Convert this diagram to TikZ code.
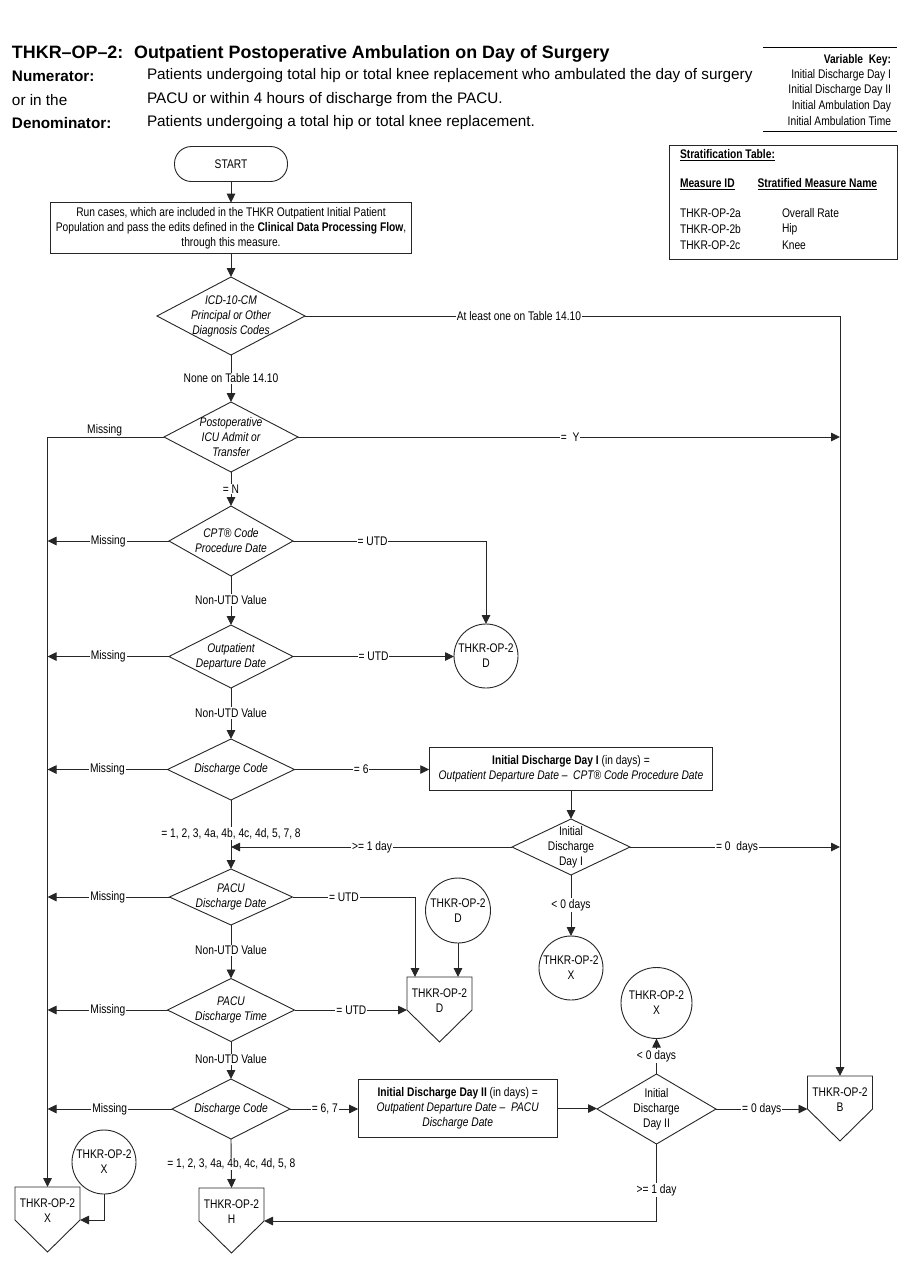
\documentclass[tikz,border=0pt]{standalone}
\usepackage{fontspec}
\setmainfont{Liberation Sans}
\newfontfamily\nar[FakeStretch=0.82]{Liberation Sans}
\usetikzlibrary{shapes.geometric,calc,arrows.meta}
\newcommand\nfs{\nar\fontsize{12.5}{15}\selectfont}
\newcommand\mydec[7]{%
  \node[dia, minimum width=#4pt, minimum height=#5pt] (#1) at (#2,#3) {};
  \node[#6] (#1t) at (#1.center) {#7};}
\newcommand\mypent[4]{%
  \node[pbox, anchor=north] (#1) at (#2,#3) {};
  \draw[ln] (#1.north west) -- (#1.north east) -- (#1.south east) -- ($(#1.south)+(0,32)$) -- (#1.south west) -- cycle;
  \node[ptx] (#1t) at ($(#1.north)+(0,24)$) {THKR-OP-2\\#4};}
\begin{document}
\begin{tikzpicture}[x=1pt,y=-1pt,
  every node/.style={inner sep=0pt, outer sep=0pt},
  ln/.style={line width=0.9pt, draw=black!85},
  ar/.style={ln, -{Triangle[length=9pt,width=8.5pt]}},
  dia/.style={diamond, draw=black!85, line width=0.9pt, inner sep=0pt},
  dti/.style={font=\nfs\itshape, align=center},
  dtu/.style={font=\nfs, align=center},
  lbl/.style={font=\nfs, fill=white, inner sep=1pt},
  circ/.style={circle, draw=black!85, line width=0.9pt, inner sep=0pt, align=center, font=\nfs},
  bx/.style={rectangle, draw=black!85, line width=0.9pt, align=center, font=\nfs},
  pbox/.style={rectangle, minimum width=65pt, minimum height=33pt},
  ptx/.style={font=\nfs, align=center},
  hd/.style={font=\fontsize{15.3}{18}\selectfont, anchor=west},
  vk/.style={font=\nar\fontsize{12.5}{15}\selectfont, anchor=east},
  st/.style={font=\nar\fontsize{12.5}{15}\selectfont, anchor=west}
]
\fill[white] (0,0) rectangle (900,1286);
\useasboundingbox (0,0) rectangle (900,1286);

% ---------- header ----------
\node[anchor=west, font=\bfseries\fontsize{17.9}{22}\selectfont] (title) at (12,53.5) {THKR–OP–2:\hspace{0.6em}Outpatient Postoperative Ambulation on Day of Surgery};
\node[hd, font=\bfseries\fontsize{15.3}{18}\selectfont] (numl) at (12,76) {Numerator:};
\node[hd] (numt) at (147,76) {Patients undergoing total hip or total knee replacement who ambulated the day of surgery};
\node[hd] (numl2) at (12,100) {or in the};
\node[hd] (numt2) at (147,100) {PACU or within 4 hours of discharge from the PACU.};
\node[hd, font=\bfseries\fontsize{15.3}{18}\selectfont] (denl) at (12,123) {Denominator:};
\node[hd] (dent) at (147,123) {Patients undergoing a total hip or total knee replacement.};

% variable key
\coordinate (vk1) at (763,47.7);
\coordinate (vk2) at (897,47.7);
\coordinate (vk3) at (763,131.5);
\coordinate (vk4) at (897,131.5);
\draw[line width=1pt] (vk1) -- (vk2);
\draw[line width=1pt] (vk3) -- (vk4);
\node[vk] (vka) at (891,60.5) {\textbf{Variable\ \ Key:}};
\node[vk] (vkb) at (891,75.5) {Initial Discharge Day I};
\node[vk] (vkc) at (891,90.5) {Initial Discharge Day II};
\node[vk] (vkd) at (891,106) {Initial Ambulation Day};
\node[vk] (vke) at (891,121) {Initial Ambulation Time};

% stratification table
\node[draw=black!85, line width=0.9pt, minimum width=228pt, minimum height=114pt, anchor=north west] (strat) at (669.5,145) {};
\node[st] (s1) at (680,155) {\textbf{\underline{Stratification Table:}}};
\node[st] (s2) at (680,184) {\textbf{\underline{Measure ID}}};
\node[st] (s3) at (757.5,184) {\textbf{\underline{Stratified Measure Name}}};
\node[st] (s4) at (680,213.3) {THKR-OP-2a};
\node[st] (s5) at (782,213.3) {Overall Rate};
\node[st] (s6) at (680,229.3) {THKR-OP-2b};
\node[st] (s7) at (782,229.3) {Hip};
\node[st] (s8) at (680,245) {THKR-OP-2c};
\node[st] (s9) at (782,245) {Knee};

% ---------- flow nodes ----------
\node[bx, rounded corners=17pt, minimum width=113pt, minimum height=35pt] (start) at (231,164) {START};
\node[bx, minimum width=361pt, minimum height=50.6pt] (run) at (231,228) {Run cases, which are included in the THKR Outpatient Initial Patient\\Population and pass the edits defined in the \textbf{Clinical Data Processing Flow},\\through this measure.};

\mydec{d1}{231}{316}{148}{78}{dti}{ICD-10-CM\\Principal or Other\\Diagnosis Codes}
\mydec{d2}{231}{437}{134}{70}{dti}{Postoperative\\ICU Admit or\\Transfer}
\mydec{d3}{231}{541}{124}{70}{dti}{CPT® Code\\Procedure Date}
\mydec{d4}{231}{656.5}{124}{63}{dti}{Outpatient\\Departure Date}
\mydec{d5}{231}{769.5}{127}{61}{dti}{Discharge Code}
\mydec{d6}{571}{847}{118}{56}{dtu}{Initial\\Discharge\\Day I}
\mydec{d7}{231}{897}{123}{56}{dti}{PACU\\Discharge Date}
\mydec{d8}{231}{1010}{127}{63}{dti}{PACU\\Discharge Time}
\mydec{d9}{231}{1109}{118}{60}{dti}{Discharge Code}
\mydec{d10}{656.5}{1109}{119}{70}{dtu}{Initial\\Discharge\\Day II}

\node[bx, minimum width=283.5pt, minimum height=43.7pt] (boxI) at (571,769) {\textbf{Initial Discharge Day I} (in days) =\\\textit{Outpatient Departure Date –\ \ CPT® Code Procedure Date}};
\node[bx, minimum width=199pt, minimum height=58pt] (boxII) at (457.7,1108.5) {\textbf{Initial Discharge Day II} (in days) =\\\textit{Outpatient Departure Date –\ \ PACU}\\\textit{Discharge Date}};

\node[circ, minimum size=64pt] (cD1) at (486,656) {THKR-OP-2\\D};
\node[circ, minimum size=65pt] (cD2) at (458,910.5) {THKR-OP-2\\D};
\node[circ, minimum size=64pt] (cX1) at (571,968) {THKR-OP-2\\X};
\node[circ, minimum size=71pt] (cX2) at (656.5,1003) {THKR-OP-2\\X};
\node[circ, minimum size=64pt] (cX3) at (104,1162) {THKR-OP-2\\X};

\mypent{pD}{439.5}{977}{D}
\mypent{pB}{840}{1076}{B}
\mypent{pH}{231.5}{1188}{H}
\mypent{pX}{47.5}{1187}{X}

% ---------- connectors ----------
\draw[ar] (start.south) -- (run.north);
\draw[ar] (run.south) -- (d1.north);
\draw[ar] (d1.east) -| node[lbl, pos=0.2] {At least one on Table 14.10} (pB.north);
\draw[ar] (d1.south) -- node[lbl, pos=0.5] {None on Table 14.10} (d2.north);
\draw[ar] (d2.west) -| node[lbl, pos=0.255, anchor=south, inner sep=0.5pt] {Missing} (pX.north);
\draw[ar] (d2.east) -- node[lbl, pos=0.502] {=\ \ Y} (d2.east -| pB.north);
\draw[ar] (d2.south) -- node[lbl, pos=0.5] {= N} (d3.north);

\draw[ar] (d3.west) -- node[lbl, pos=0.5] {Missing} (d3.west -| pX.north);
\draw[ar] (d3.east) -| node[lbl, pos=0.206] {= UTD} (cD1.north);
\draw[ar] (d3.south) -- node[lbl, pos=0.49] {Non-UTD Value} (d4.north);

\draw[ar] (d4.west) -- node[lbl, pos=0.5] {Missing} (d4.west -| pX.north);
\draw[ar] (d4.east) -- node[lbl, pos=0.5] {= UTD} (d4.east -| cD1.west);
\draw[ar] (d4.south) -- node[lbl, pos=0.49] {Non-UTD Value} (d5.north);

\draw[ar] (d5.west) -- node[lbl, pos=0.5] {Missing} (d5.west -| pX.north);
\draw[ar] (d5.east) -- node[lbl, pos=0.495] {= 6} (d5.east -| boxI.west);
\draw[ar] (boxI.south) -- (d6.north);
\draw[ar] (d6.west) -- node[lbl, pos=0.498] {>= 1 day} (d6.west -| d5.south);
\draw[ar] (d6.east) -- node[lbl, pos=0.51] {= 0\ \ days} (d6.east -| pB.north);
\draw[ar] (d6.south) -- node[lbl, pos=0.49] {< 0 days} (cX1.north);
\draw[ar] (d5.south) -- node[lbl, pos=0.49] {= 1, 2, 3, 4a, 4b, 4c, 4d, 5, 7, 8} (d7.north);

\draw[ar] (d7.west) -- node[lbl, pos=0.507] {Missing} (d7.west -| pX.north);
\draw[ar] (d7.east) -| node[lbl, pos=0.21] {= UTD} ([xshift=8pt]pD.north west);
\draw[ar] (cD2.south) -- (cD2.south |- pD.north);
\draw[ar] (d7.south) -- node[lbl, pos=0.47] {Non-UTD Value} (d8.north);

\draw[ar] (d8.west) -- node[lbl, pos=0.497] {Missing} (d8.west -| pX.north);
\draw[ar] (d8.east) -- node[lbl, pos=0.506] {= UTD} (d8.east -| pD.south west);
\draw[ar] (d8.south) -- node[lbl, pos=0.47] {Non-UTD Value} (d9.north);

\draw[ar] (d9.west) -- node[lbl, pos=0.5] {Missing} (d9.west -| pX.north);
\draw[ar] (d9.east) -- node[lbl, pos=0.51] {= 6, 7} (d9.east -| boxII.west);
\draw[ar] (boxII.east) -- (boxII.east -| d10.west);
\draw[ar] (d10.north) -- node[lbl, pos=0.5] {< 0 days} (cX2.south);
\draw[ar] (d10.east) -- node[lbl, pos=0.5] {= 0 days} (d10.east -| pB.south west);
\draw[ar] (d10.south) |- node[lbl, pos=0.3] {>= 1 day} (pH.south east);
\draw[ar] (d9.south) -- node[lbl, pos=0.51] {= 1, 2, 3, 4a, 4b, 4c, 4d, 5, 8} (pH.north);
\draw[ar] (cX3.south) |- (pX.south east);
\end{tikzpicture}
\end{document}
